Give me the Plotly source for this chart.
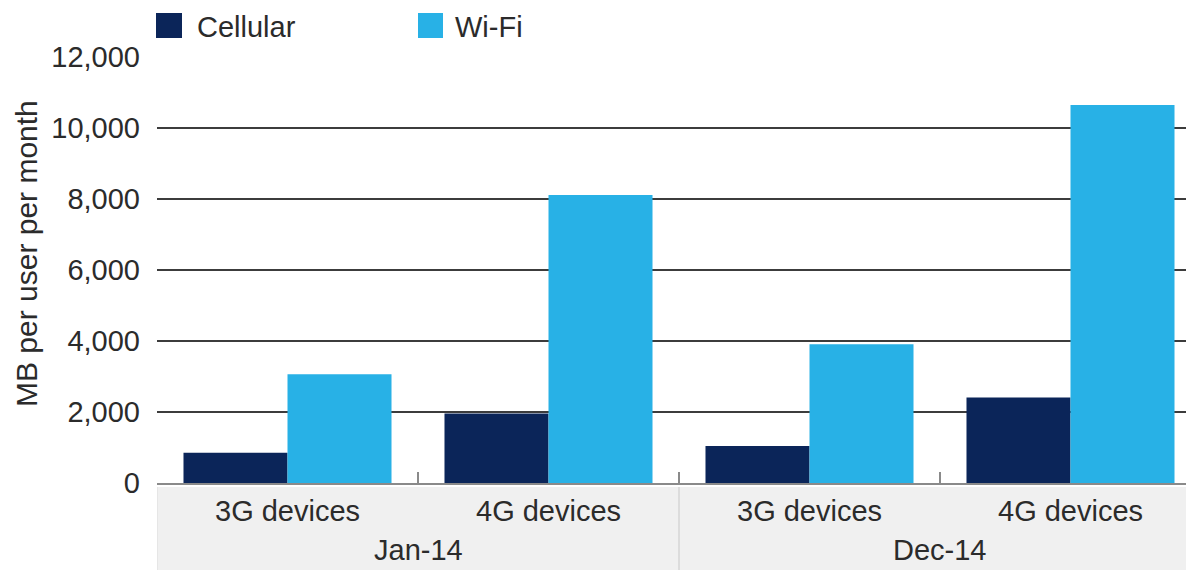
import plotly.graph_objects as go

# ---- data ----
periods = ["Jan-14", "Jan-14", "Dec-14", "Dec-14"]
devices = ["3G devices", "4G devices", "3G devices", "4G devices"]
cellular = [850, 1960, 1040, 2410]
wifi = [3060, 8110, 3910, 10650]
series_names = ["Cellular", "Wi-Fi"]
series_colors = ["#0b2559", "#28b1e6"]
y_ticks = [0, 2000, 4000, 6000, 8000, 10000, 12000]

FONT = "Liberation Sans, Arial, sans-serif"
TXT = "#2b2b2b"
FS = 29

W, H = 1186, 570
L, R, T, B = 157, 0, 57, 87
PW = W - L - R
PH = H - T - B

x_idx = list(range(len(devices)))

fig = go.Figure()
for name, vals, col in zip(series_names, [cellular, wifi], series_colors):
    fig.add_trace(go.Bar(x=x_idx, y=vals, name=name, marker=dict(color=col, line=dict(width=0)),
                         showlegend=False))

def py(pix):
    return (H - B - pix) / PH

def px(pix):
    return (pix - L) / PW

shapes = []
annotations = []

# grey category band
shapes.append(dict(type="rect", xref="paper", yref="paper", x0=0, x1=1, y0=py(487), y1=py(572),
                   fillcolor="#f0f0f0", line=dict(width=0), layer="below"))
# group dividers
shapes.append(dict(type="line", xref="x", yref="paper", x0=-0.5, x1=-0.5, y0=py(487), y1=py(572),
                   line=dict(color="#dcdcdc", width=1)))
shapes.append(dict(type="line", xref="x", yref="paper", x0=1.5, x1=1.5, y0=py(487), y1=py(572),
                   line=dict(color="#c8c8c8", width=1)))

# device labels
for i, d in zip(x_idx, devices):
    annotations.append(dict(x=i, y=py(511), xref="x", yref="paper", text=d, showarrow=False,
                            xanchor="center", yanchor="middle", font=dict(size=FS, color=TXT, family=FONT)))
# period labels
seen = []
for p in periods:
    if p not in seen:
        seen.append(p)
for p in seen:
    idxs = [i for i, q in zip(x_idx, periods) if q == p]
    annotations.append(dict(x=sum(idxs) / len(idxs), y=py(550), xref="x", yref="paper", text=p,
                            showarrow=False, xanchor="center", yanchor="middle",
                            font=dict(size=FS, color=TXT, family=FONT)))

# y-axis title
annotations.append(dict(x=px(26), y=py(254), xref="paper", yref="paper", text="MB per user per month",
                        textangle=-90, showarrow=False, xanchor="center", yanchor="middle",
                        font=dict(size=30, color=TXT, family=FONT)))

# manual legend
leg = [(156, 182, 195), (418, 443, 453)]
for (x0, x1, tx), name, col in zip(leg, series_names, series_colors):
    shapes.append(dict(type="rect", xref="paper", yref="paper", x0=px(x0), x1=px(x1),
                       y0=py(38), y1=py(13), fillcolor=col, line=dict(width=0)))
    annotations.append(dict(x=px(tx), y=py(27), xref="paper", yref="paper", text=name,
                            showarrow=False, xanchor="left", yanchor="middle",
                            font=dict(size=FS, color=TXT, family=FONT)))

fig.update_layout(
    width=W, height=H,
    margin=dict(l=L, r=R, t=T, b=B, autoexpand=False),
    paper_bgcolor="white", plot_bgcolor="white",
    barmode="group", bargap=0.203, bargroupgap=0,
    font=dict(family=FONT, size=FS, color=TXT),
    shapes=shapes, annotations=annotations,
    showlegend=False,
)
fig.update_xaxes(type="linear", range=[-0.5, -0.5 + PW / 261.0], showgrid=False, zeroline=False,
                 showline=True, linecolor="#8a8a8a", linewidth=1.5,
                 ticks="inside", tickvals=[-0.5, 0.5, 1.5, 2.5], ticklen=11, tickcolor="#8a8a8a",
                 tickwidth=1.5, showticklabels=False, fixedrange=True)
fig.update_yaxes(range=[0, 12000], tickvals=y_ticks, tickformat=",", showgrid=True,
                 gridcolor="#3c3c3c", gridwidth=1.5, zeroline=False, showline=False, ticks="",
                 ticklabelstandoff=16, tickfont=dict(size=FS, color=TXT, family=FONT), fixedrange=True)

fig.write_html("out.html", config={"displayModeBar": False},
               post_script="document.body.style.margin='0px';document.body.style.overflow='hidden';")
